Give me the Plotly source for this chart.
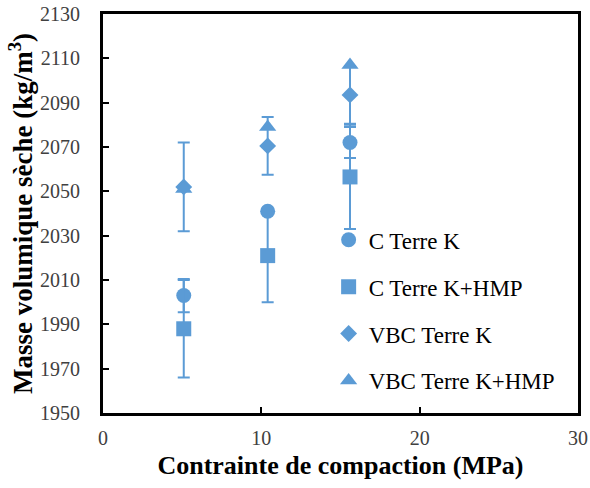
import plotly.graph_objects as go

# contrainte de compaction (MPa)
x_c = [5.1, 10.4, 15.6]

# masse volumique sèche (kg/m3) et écarts
c_terre_k = [2003, 2041, 2072]
c_terre_k_err = [7.5, 1, 7]
c_terre_k_hmp = [1988, 2021, 2056.5]
c_terre_k_hmp_err = [22, 21, 23.5]
vbc_terre_k = [2052, 2070.5, 2093.5]
vbc_terre_k_err = [20, 13, 13]
vbc_terre_k_hmp = [2051, 2079, 2107]
vbc_terre_k_hmp_err = [0, 0, 0]

names = ["C Terre K", "C Terre K+HMP", "VBC Terre K", "VBC Terre K+HMP"]
symbols = ["circle", "square", "diamond", "triangle-up"]
sizes = [15, 15, 13, 15]
series = [
    (c_terre_k, c_terre_k_err),
    (c_terre_k_hmp, c_terre_k_hmp_err),
    (vbc_terre_k, vbc_terre_k_err),
    (vbc_terre_k_hmp, vbc_terre_k_hmp_err),
]

blue = "#5B9BD5"
font_family = "Liberation Serif"

fig = go.Figure()
for i, (name, (y, err)) in enumerate(zip(names, series)):
    fig.add_trace(
        go.Scatter(
            x=x_c,
            y=y,
            name=name,
            mode="markers",
            legendgroup=name,
            marker=dict(symbol=symbols[i], size=sizes[i], color=blue),
            error_y=dict(
                type="data",
                array=err,
                visible=any(e > 0 for e in err),
                color=blue,
                thickness=2,
                width=6,
            ),
        )
    )

fig.update_layout(
    width=590,
    height=488,
    paper_bgcolor="white",
    plot_bgcolor="white",
    margin=dict(l=103, r=12, t=14, b=75),
    font=dict(family=font_family, color="#404040", size=20),
    showlegend=True,
    legend=dict(
        x=0.475,
        y=0.488,
        xanchor="left",
        yanchor="top",
        bgcolor="rgba(0,0,0,0)",
        font=dict(size=23, color="black", family=font_family),
        traceorder="grouped",
        tracegroupgap=14,
        itemwidth=30,
    ),
)

fig.update_xaxes(
    range=[0, 30],
    tickvals=[0, 10, 20, 30],
    showgrid=False,
    zeroline=False,
    showline=True,
    mirror=True,
    linecolor="black",
    linewidth=3,
    ticks="inside",
    ticklen=6,
    tickwidth=2,
    tickcolor="black",
    ticklabelstandoff=5,
    automargin=False,
    title=dict(
        text="<b>Contrainte de compaction (MPa)</b>",
        font=dict(size=26, color="black", family=font_family),
        standoff=8,
    ),
)

fig.update_yaxes(
    range=[1950, 2130],
    tickvals=list(range(1950, 2131, 20)),
    showgrid=False,
    zeroline=False,
    showline=True,
    mirror=True,
    linecolor="black",
    linewidth=3,
    ticks="inside",
    ticklen=6,
    tickwidth=2,
    tickcolor="black",
    ticklabelstandoff=16,
    automargin=False,
    title=dict(
        text="<b>Masse volumique sèche (kg/m<sup>3</sup>)</b>",
        font=dict(size=27, color="black", family=font_family),
        standoff=0,
    ),
)

# the page body has a default 8px margin; remove it so the figure fills the window
fig.write_html(
    "out.html",
    config={"displayModeBar": False},
    post_script="document.body.style.margin = '0';",
)
